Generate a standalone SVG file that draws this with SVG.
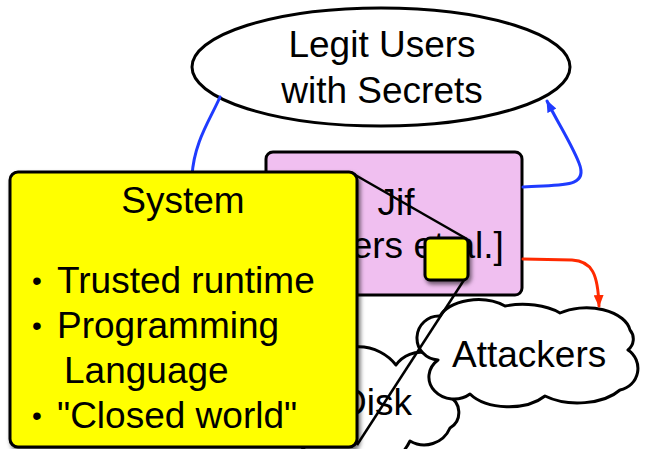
<svg xmlns="http://www.w3.org/2000/svg" width="645" height="449" viewBox="0 0 645 449">
  <defs>
    <style>
      .lbl { font-family: "Liberation Sans", Arial, sans-serif; font-size: 37px; fill: #000; }
      .mid { text-anchor: middle; }
      .dot { font-family: "Liberation Sans", Arial, sans-serif; font-size: 28px; fill: #000; }
      .outline { stroke: #000; stroke-width: 3; stroke-linejoin: round; }
      .blue { fill: none; stroke: #1f3bff; stroke-width: 3; stroke-linecap: round; }
      .red { fill: none; stroke: #ff2a00; stroke-width: 3; stroke-linecap: round; }
      .callout { fill: none; stroke: #000; stroke-width: 2.5; }
    </style>
    <filter id="shadow" x="-20%" y="-20%" width="140%" height="140%">
      <feDropShadow dx="2" dy="3" stdDeviation="2" flood-color="#000" flood-opacity="0.55"/>
    </filter>
    <marker id="arrowBlue" viewBox="0 0 12 10" refX="11" refY="5" markerWidth="12" markerHeight="10" markerUnits="userSpaceOnUse" orient="auto">
      <path d="M0,0 L12,5 L0,10 z" fill="#1f3bff"/>
    </marker>
    <marker id="arrowRed" viewBox="0 0 12 10" refX="11" refY="5" markerWidth="12" markerHeight="10" markerUnits="userSpaceOnUse" orient="auto">
      <path d="M0,0 L12,5 L0,10 z" fill="#ff2a00"/>
    </marker>
  </defs>

  <!-- users ellipse -->
  <g id="legit-users">
    <ellipse cx="381" cy="67" rx="189" ry="59" fill="#fff" class="outline"/>
    <text class="lbl mid" x="382" y="57">Legit Users</text>
    <text class="lbl mid" x="382" y="103">with Secrets</text>
  </g>

  <!-- Jif box -->
  <g id="jif">
    <rect x="266" y="152" width="256" height="143" rx="7" fill="#f0bff0" class="outline"/>
    <text class="lbl mid" x="396" y="215">Jif</text>
    <text class="lbl mid" x="398" y="258">[Myers et al.]</text>
  </g>

  <!-- storage cloud -->
  <g id="disk">
    <path d="M320,366 A48,48 0 0 1 396,365 A30,30 0 0 1 450,377 A12,12 0 0 1 448,396 A18,18 0 0 1 450,428 A28,28 0 0 1 410,441 A55,55 0 0 1 330,462 A50,50 0 0 1 320,366 Z" fill="#fff" class="outline"/>
    <text class="lbl" x="340" y="415">Disk</text>
  </g>

  <!-- attackers cloud -->
  <g id="attackers">
    <path d="M438,360 A22,22 0 0 1 440,316 A40,24 0 0 1 505,306 A50,26 0 0 1 560,313 A44,26 0 0 1 630,330 A14,14 0 0 1 628,350 A22,22 0 0 1 620,390 A50,28 0 0 1 545,396 A45,26 0 0 1 470,394 A25,22 0 0 1 438,360 Z" fill="#fff" class="outline"/>
    <text class="lbl" x="452" y="367">Attackers</text>
  </g>

  <!-- flows -->
  <g id="connectors">
    <path class="blue" d="M220,97 C210,120 194,142 192,176"/>
    <path class="blue" d="M523,187 C556,184 590,190 579,163 C571,143 559,125 547,101" marker-end="url(#arrowBlue)"/>
    <path class="red" d="M523,259 L572,260 C592,261 598,274 599,306" marker-end="url(#arrowRed)"/>
  </g>

  <!-- zoom-out lines from the small square to the system box -->
  <g id="callout">
    <line class="callout" x1="350" y1="172" x2="467" y2="239"/>
    <line class="callout" x1="464" y1="280" x2="357" y2="445"/>
  </g>

  <g id="system-mini">
    <rect x="425" y="238" width="43" height="42" rx="5" fill="#ffff00" class="outline" filter="url(#shadow)"/>
  </g>

  <!-- system box -->
  <g id="system">
    <rect x="10" y="172" width="347" height="275" rx="8" fill="#ffff00" class="outline" filter="url(#shadow)"/>
    <text class="lbl mid" x="183" y="213">System</text>
    <text class="dot" x="32" y="290">•</text>
    <text class="lbl" x="57" y="293">Trusted runtime</text>
    <text class="dot" x="32" y="335">•</text>
    <text class="lbl" x="57" y="338">Programming</text>
    <text class="lbl" x="64" y="383">Language</text>
    <text class="dot" x="32" y="425">•</text>
    <text class="lbl" x="57" y="428">"Closed world"</text>
  </g>
</svg>
